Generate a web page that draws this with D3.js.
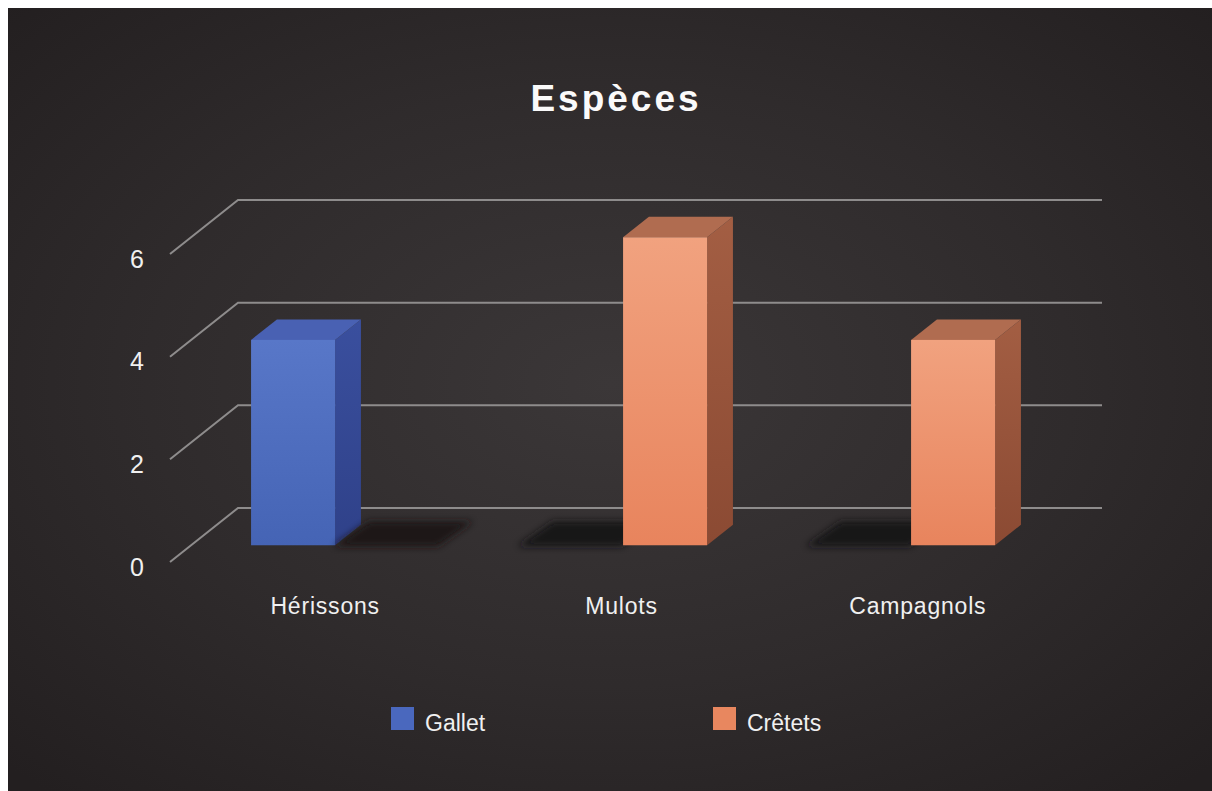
<!DOCTYPE html>
<html>
<head>
<meta charset="utf-8">
<script src="https://cdn.jsdelivr.net/npm/d3@7"></script>
<style>
  body { margin: 0; background: #fff; }
  text { font-family: "Liberation Sans", Arial, sans-serif; }
</style>
</head>
<body>
<svg id="chart"></svg>
<script>
var categories = ["Hérissons", "Mulots", "Campagnols"];
var seriesNames = ["Gallet", "Crêtets"];
var galletValues = [4, 0, 0];
var cretetsValues = [0, 6, 4];
var yTickValues = [0, 2, 4, 6];
var chartTitle = "Espèces";

var width = 1212, height = 791;
var svg = d3.select("#chart").attr("width", width).attr("height", height);

// 3d depth offset of the back wall
var depthX = 68, depthY = 54;
var d0 = 0.31, d1 = 0.69;

var x0 = d3.scaleBand().domain(categories).range([170, 1034]);
var x1 = d3.scaleBand().domain(seriesNames).range([0, x0.bandwidth()]).paddingInner(0).paddingOuter(0.714);
var xLabel = d3.scaleBand().domain(categories).range([177, 1066]);
var y = d3.scaleLinear().domain([0, 6]).range([562, 254]);

function proj(px, v, d) { return [px + depthX * d, y(v) - depthY * d]; }

var colors = {
  Gallet:  { front: ["#5877c8", "#4564b5"], side: ["#3a4f9e", "#2f4189"], top: "#4961b3", shadow: "#141319", legend: "#4a68be" },
  "Crêtets": { front: ["#f1a27f", "#e8845d"], side: ["#a35e43", "#8b4a33"], top: "#b06c50", shadow: "#1c1413", legend: "#e8875f" }
};

var defs = svg.append("defs");
var bg = defs.append("radialGradient").attr("id", "bg").attr("cx", "50%").attr("cy", "48%").attr("r", "70%");
bg.append("stop").attr("offset", "0%").attr("stop-color", "#3b3738");
bg.append("stop").attr("offset", "55%").attr("stop-color", "#2f2b2c");
bg.append("stop").attr("offset", "100%").attr("stop-color", "#231f20");

seriesNames.forEach(function(s, i) {
  ["front", "side"].forEach(function(face) {
    var g = defs.append("linearGradient").attr("id", "g" + i + face).attr("x1", 0).attr("y1", 0).attr("x2", 0).attr("y2", 1);
    g.append("stop").attr("offset", "0%").attr("stop-color", colors[s][face][0]);
    g.append("stop").attr("offset", "100%").attr("stop-color", colors[s][face][1]);
  });
});
defs.append("filter").attr("id", "blur").attr("x", "-30%").attr("y", "-80%").attr("width", "160%").attr("height", "260%")
  .append("feGaussianBlur").attr("stdDeviation", 3.5);

svg.append("rect").attr("x", 8).attr("y", 8).attr("width", width - 8).attr("height", height - 8).attr("fill", "url(#bg)");

// title
svg.append("text").attr("x", 616).attr("y", 111).attr("text-anchor", "middle")
  .attr("font-size", 37).attr("font-weight", "bold").attr("letter-spacing", 3).attr("fill", "#fafafa")
  .text(chartTitle);

// gridlines (side wall + back wall)
var line = d3.line();
svg.append("g").selectAll("path").data(yTickValues).enter().append("path")
  .attr("d", function(v) { return line([proj(x0.range()[0], v, 0), proj(x0.range()[0], v, 1), proj(x0.range()[1], v, 1)]); })
  .attr("fill", "none").attr("stroke", "#8e8c8c").attr("stroke-width", 2);

// y tick labels
svg.append("g").selectAll("text").data(yTickValues).enter().append("text")
  .attr("x", 144).attr("y", function(v) { return y(v) + 5; })
  .attr("dy", "0.35em").attr("text-anchor", "end").attr("font-size", 25).attr("fill", "#f0f0f0")
  .text(function(v) { return v; });

var data = [];
categories.forEach(function(c, i) {
  data.push({ cat: c, s: "Gallet", si: 0, v: galletValues[i] });
  data.push({ cat: c, s: "Crêtets", si: 1, v: cretetsValues[i] });
});

var bars = svg.append("g").selectAll("g").data(data).enter().append("g");

bars.each(function(d) {
  var g = d3.select(this);
  var xl = x0(d.cat) + x1(d.s), xr = xl + x1.bandwidth();
  if (d.v === 0) {
    // a zero value shows as a flat dark footprint on the floor, spread outward
    var a = d.si === 0 ? xl - 20 : xl, b = d.si === 0 ? xr : xr + 20;
    g.append("path")
      .attr("d", line([proj(a, 0, d0 - 0.02), proj(b, 0, d0 - 0.02), proj(b + 4, 0, d0 + 0.44), proj(a + 4, 0, d0 + 0.44)]) + "Z")
      .attr("fill", colors[d.s].shadow).attr("opacity", 0.95).attr("filter", "url(#blur)");
    return;
  }
  // side face
  g.append("path")
    .attr("d", line([proj(xr, d.v, d0), proj(xr, d.v, d1), proj(xr, 0, d1), proj(xr, 0, d0)]) + "Z")
    .attr("fill", "url(#g" + d.si + "side)");
  // top face
  g.append("path")
    .attr("d", line([proj(xl, d.v, d0), proj(xl, d.v, d1), proj(xr, d.v, d1), proj(xr, d.v, d0)]) + "Z")
    .attr("fill", colors[d.s].top);
  // front face
  var p = proj(xl, d.v, d0), q = proj(xr, 0, d0);
  g.append("rect").attr("x", p[0]).attr("y", p[1]).attr("width", q[0] - p[0]).attr("height", q[1] - p[1])
    .attr("fill", "url(#g" + d.si + "front)");
});

// category labels
svg.append("g").selectAll("text").data(categories).enter().append("text")
  .attr("x", function(c) { return xLabel(c) + xLabel.bandwidth() / 2; })
  .attr("y", 614).attr("text-anchor", "middle").attr("font-size", 23).attr("letter-spacing", 0.8).attr("fill", "#f0f0f0")
  .text(function(c) { return c; });

// legend
var legendX = d3.scaleOrdinal().domain(seriesNames).range([391, 713]);
var legend = svg.append("g").selectAll("g").data(seriesNames).enter().append("g")
  .attr("transform", function(s) { return "translate(" + legendX(s) + ",707)"; });
legend.append("rect").attr("width", 23).attr("height", 23).attr("fill", function(s) { return colors[s].legend; });
legend.append("text").attr("x", 34).attr("y", 24).attr("font-size", 23).attr("fill", "#f0f0f0")
  .text(function(s) { return s; });
</script>
</body>
</html>
